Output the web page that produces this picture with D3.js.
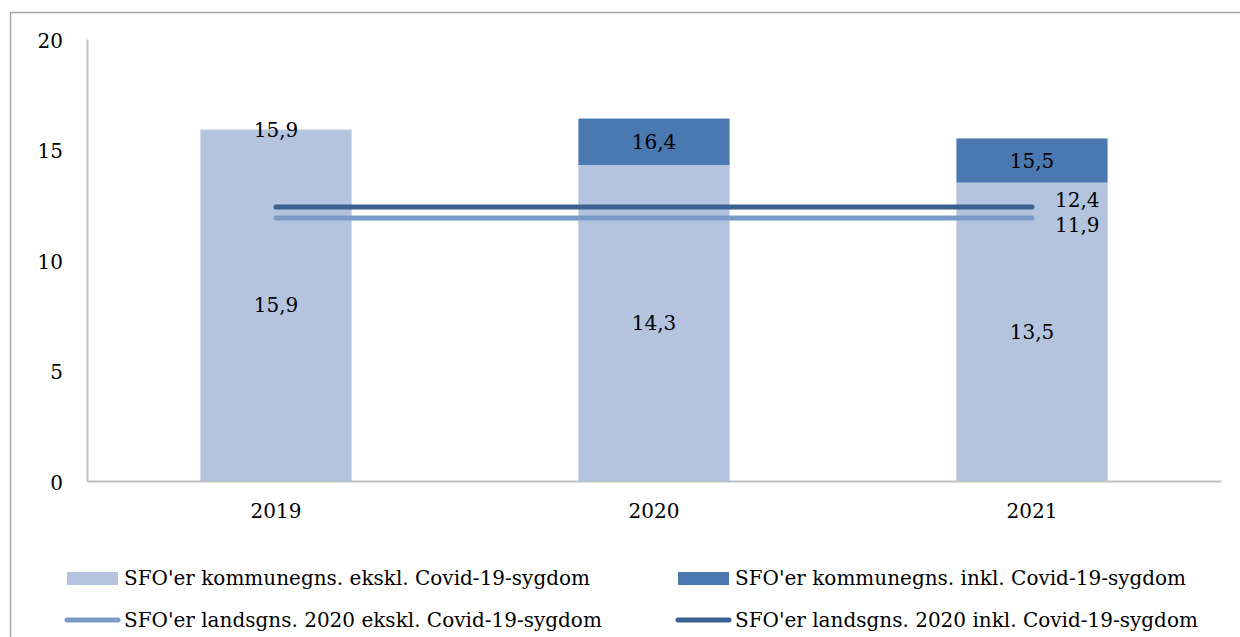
<!DOCTYPE html>
<html><head><meta charset="utf-8">
<script src="https://cdn.jsdelivr.net/npm/d3@7/dist/d3.min.js"></script>
<style>
html,body{margin:0;padding:0;background:#fff;}
svg text{font-family:"DejaVu Serif","Liberation Serif",serif;fill:#000;}
</style></head>
<body>
<svg id="chart" width="1240" height="637"></svg>
<script>
const categories = ["2019", "2020", "2021"];
const kommuneEkskl = [15.9, 14.3, 13.5];
const kommuneInkl = [15.9, 16.4, 15.5];
const landsEkskl = [11.9, 11.9, 11.9];
const landsInkl = [12.4, 12.4, 12.4];
const yTicks = [0, 5, 10, 15, 20];
const seriesNames = [
  "SFO'er kommunegns. ekskl. Covid-19-sygdom",
  "SFO'er kommunegns. inkl. Covid-19-sygdom",
  "SFO'er landsgns. 2020 ekskl. Covid-19-sygdom",
  "SFO'er landsgns. 2020 inkl. Covid-19-sygdom"
];
const colors = {light:"#B4C4DE", dark:"#4A78B0", lineLight:"#7A9AC8", lineDark:"#3A6190", axis:"#BFBFBF", frame:"#A6A6A6"};
const fmt = v => d3.format(".1f")(v).replace(".", ",");
const FS = 20;

const svg = d3.select("#chart");
// outer frame
svg.append("rect").attr("x",10.5).attr("y",12.5).attr("width",1240).attr("height",640)
  .attr("fill","none").attr("stroke",colors.frame).attr("stroke-width",1.5);

const m = {left:87, right:1221, top:39, bottom:481};
const x = d3.scaleBand().domain(categories).range([m.left, m.right]).padding(0);
const y = d3.scaleLinear().domain([0,20]).range([m.bottom, m.top]);
const bw = x.bandwidth()*0.4;
const cx = c => x(c) + x.bandwidth()/2;

// axes
const yAxis = svg.append("g").attr("transform",`translate(${m.left},0)`)
  .call(d3.axisLeft(y).tickValues(yTicks).tickSize(0).tickPadding(24).tickFormat(d=>d));
yAxis.select(".domain").attr("stroke",colors.axis).attr("stroke-width",2);
yAxis.selectAll("text").attr("font-size",FS).attr("font-family","DejaVu Serif").attr("dy","0.4em");

const xAxis = svg.append("g").attr("transform",`translate(0,${m.bottom})`)
  .call(d3.axisBottom(x).tickSize(0).tickPadding(23));
xAxis.select(".domain").attr("stroke",colors.axis).attr("stroke-width",2);
xAxis.selectAll("text").attr("font-size",FS).attr("font-family","DejaVu Serif");

// bars
const data = categories.map((c,i)=>({c, a:kommuneEkskl[i], t:kommuneInkl[i]}));
svg.append("g").selectAll("rect").data(data).join("rect")
  .attr("x",d=>cx(d.c)-bw/2).attr("width",bw)
  .attr("y",d=>y(d.a)).attr("height",d=>y(0)-y(d.a)).attr("fill",colors.light);
svg.append("g").selectAll("rect").data(data).join("rect")
  .attr("x",d=>cx(d.c)-bw/2).attr("width",bw)
  .attr("y",d=>y(d.t)).attr("height",d=>y(d.a)-y(d.t)).attr("fill",colors.dark);

// bar labels
svg.append("g").selectAll("text").data(data).join("text")
  .attr("x",d=>cx(d.c)).attr("y",d=>y(d.a/2)).attr("dy","0.35em")
  .attr("text-anchor","middle").attr("font-size",FS).text(d=>fmt(d.a));
svg.append("g").selectAll("text").data(data).join("text")
  .attr("x",d=>cx(d.c)).attr("y",d=>y((d.a+d.t)/2)).attr("dy","0.35em")
  .attr("text-anchor","middle").attr("font-size",FS).text(d=>fmt(d.t));

// lines
const line = d3.line().x((d,i)=>cx(categories[i])).y(d=>y(d));
svg.append("path").datum(landsEkskl).attr("d",line).attr("fill","none")
  .attr("stroke",colors.lineLight).attr("stroke-width",5).attr("stroke-linecap","round");
svg.append("path").datum(landsInkl).attr("d",line).attr("fill","none")
  .attr("stroke",colors.lineDark).attr("stroke-width",5).attr("stroke-linecap","round");
const last = categories.length-1;
svg.append("text").attr("x",cx(categories[last])+23).attr("y",y(landsInkl[last])-7).attr("dy","0.35em")
  .attr("font-size",FS).text(fmt(landsInkl[last]));
svg.append("text").attr("x",cx(categories[last])+23).attr("y",y(landsEkskl[last])+7).attr("dy","0.35em")
  .attr("font-size",FS).text(fmt(landsEkskl[last]));

// legend
const legend = [
  {name:seriesNames[0], type:"rect", color:colors.light, x:67, y:578},
  {name:seriesNames[1], type:"rect", color:colors.dark, x:678, y:578},
  {name:seriesNames[2], type:"line", color:colors.lineLight, x:67, y:620},
  {name:seriesNames[3], type:"line", color:colors.lineDark, x:678, y:620}
];
const lg = svg.append("g").selectAll("g").data(legend).join("g")
  .attr("transform",d=>`translate(${d.x},${d.y})`);
lg.filter(d=>d.type==="rect").append("rect").attr("x",0).attr("y",-6).attr("width",51).attr("height",13).attr("fill",d=>d.color);
lg.filter(d=>d.type==="line").append("line").attr("x1",0).attr("x2",51).attr("y1",0).attr("y2",0)
  .attr("stroke",d=>d.color).attr("stroke-width",5).attr("stroke-linecap","round");
lg.append("text").attr("x",57).attr("y",0).attr("dy","0.35em").attr("font-size",FS).text(d=>d.name);
</script>
</body></html>
